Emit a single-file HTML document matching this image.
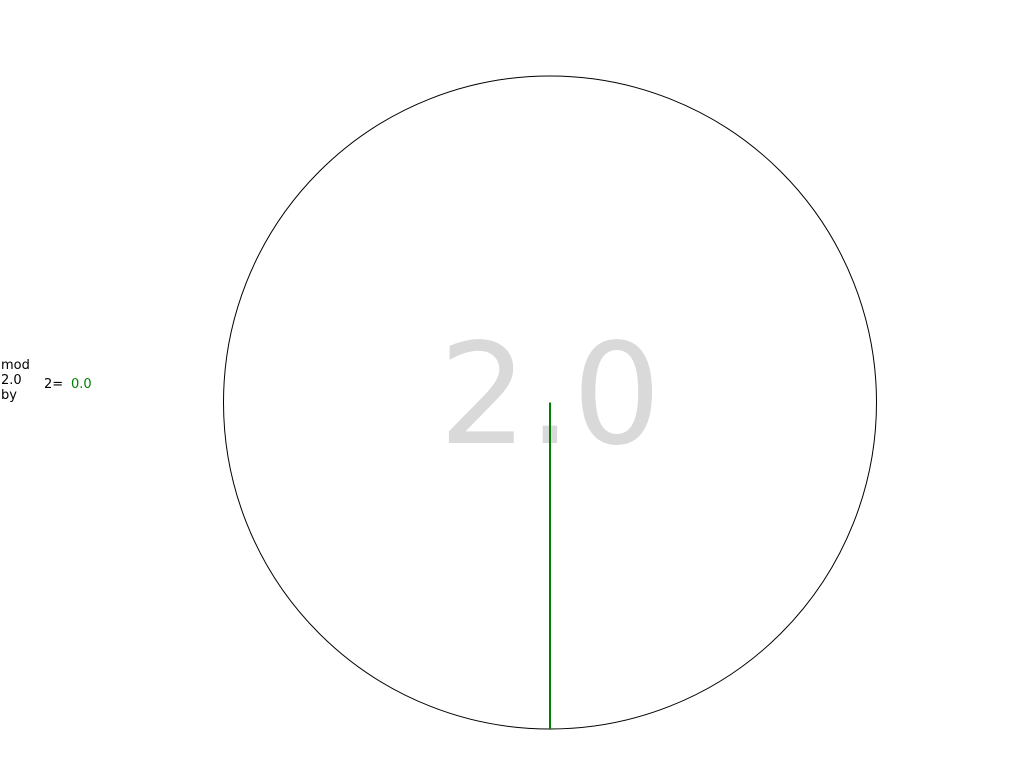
<!DOCTYPE html>
<html><head><meta charset="utf-8">
<style>
html,body{margin:0;padding:0;background:#fff;width:1024px;height:768px;overflow:hidden}
svg{display:block}
</style></head>
<body>
<svg id="chart" width="1024" height="768" viewBox="0 0 1024 768" font-family="DejaVu Sans, Liberation Sans, sans-serif">
  <circle cx="550" cy="402.5" r="326.5" fill="none" stroke="#000" stroke-width="1"/>
  <text id="bigval" x="550" y="443" font-size="140" fill="#d9d9d9" text-anchor="middle">2.0</text>
  <g id="needles"></g>
  <text x="1" y="369" font-size="13" fill="#000">mod</text>
  <text id="modlbl" x="1" y="384" font-size="13" fill="#000">2.0</text>
  <text x="1" y="399" font-size="13" fill="#000">by</text>
  <text id="divlbl" x="44" y="388" font-size="13" fill="#000">2=</text>
  <text id="reslbl" x="71" y="388" font-size="13" fill="#008000">0.0</text>
</svg>
<script>
const values = [0.0];
const modulus = [2.0];
const cx = 550, cy = 402.5, R = 326.5;
function angleOf(v, m){ return (v % m) / m * 2 * Math.PI; }
const g = document.getElementById('needles');
values.forEach(function(v){
  const a = angleOf(v, modulus[0]);
  const ln = document.createElementNS('http://www.w3.org/2000/svg','line');
  ln.setAttribute('x1', cx); ln.setAttribute('y1', cy);
  ln.setAttribute('x2', cx + R*Math.sin(a)); ln.setAttribute('y2', cy + R*Math.cos(a));
  ln.setAttribute('stroke', '#008000'); ln.setAttribute('stroke-width', '2');
  
  
  g.appendChild(ln);
});
document.getElementById('bigval').textContent = modulus[0].toFixed(1);
document.getElementById('modlbl').textContent = modulus[0].toFixed(1);
document.getElementById('reslbl').textContent = (values[0] % modulus[0]).toFixed(1);
</script>
</body></html>
